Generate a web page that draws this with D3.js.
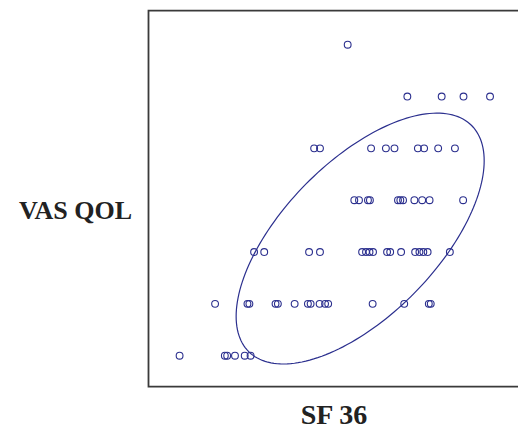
<!DOCTYPE html>
<html>
<head>
<meta charset="utf-8">
<script src="https://cdn.jsdelivr.net/npm/d3@7"></script>
<style>
  body { margin: 0; background: #fff; }
  svg { display: block; }
</style>
</head>
<body>
<svg id="chart"></svg>
<script>
// VAS QOL levels (1 = bottom row, 7 = top row)
const qolLevels = [1, 2, 3, 4, 5, 6, 7];

// SF 36 scores for each VAS QOL level
const sfAtQol1 = [8.1, 19.7, 20.3, 22.3, 24.8, 26.3];
const sfAtQol2 = [17.2, 25.5, 26.0, 32.7, 33.3, 37.6, 41.0, 41.7, 44.0, 45.4, 46.2, 57.6, 65.7, 72.0, 72.5];
const sfAtQol3 = [27.2, 29.8, 41.3, 44.1, 54.9, 55.9, 56.8, 57.7, 61.3, 62.1, 64.9, 68.5, 69.6, 70.6, 71.7, 77.4];
const sfAtQol4 = [52.9, 54.1, 56.4, 56.9, 64.1, 64.7, 65.4, 68.3, 70.3, 72.2, 80.8];
const sfAtQol5 = [42.6, 44.1, 57.2, 61.0, 63.2, 69.2, 70.8, 74.4, 78.7];
const sfAtQol6 = [66.5, 75.3, 80.9, 87.7];
const sfAtQol7 = [51.2];

// confidence ellipse (data units)
const ellipseCenter = [54.4, 3.26];
const ellipseRadii = [31.8, 2.42];
const ellipseCorr = 0.62;

const xLabel = "SF 36";
const yLabel = "VAS QOL";

const width = 518, height = 429;
const svg = d3.select("#chart").attr("width", width).attr("height", height);

const plot = { left: 148.5, top: 10.7, bottom: 386.7, right: 540 };

const x = d3.scaleLinear().domain([0, 100]).range([148, 538]);
const y = d3.scaleLinear().domain([0.402, 7.656]).range([plot.bottom, plot.top]);

const rows = [sfAtQol1, sfAtQol2, sfAtQol3, sfAtQol4, sfAtQol5, sfAtQol6, sfAtQol7];
const points = [];
rows.forEach((row, i) => {
  row.forEach(v => points.push({ sf: v, qol: qolLevels[i] }));
});

// frame (left, top, bottom; right edge runs off the picture)
svg.append("path")
  .attr("d", "M" + plot.right + "," + plot.top + "H" + plot.left + "V" + plot.bottom + "H" + plot.right)
  .attr("fill", "none")
  .attr("stroke", "#3a3a3a")
  .attr("stroke-width", 1.8);

const navy = "#2b2f8e";

svg.append("g")
  .selectAll("circle")
  .data(points)
  .join("circle")
  .attr("cx", d => x(d.sf))
  .attr("cy", d => y(d.qol))
  .attr("r", 3.4)
  .attr("fill", "none")
  .attr("stroke", navy)
  .attr("stroke-width", 1.1);

const phi = Math.acos(ellipseCorr);
const ts = d3.range(0, 2 * Math.PI + 0.01, Math.PI / 90);
const ellipseLine = d3.line()
  .x(t => x(ellipseCenter[0] + ellipseRadii[0] * Math.cos(t)))
  .y(t => y(ellipseCenter[1] + ellipseRadii[1] * Math.cos(t - phi)))
  .curve(d3.curveLinearClosed);

svg.append("path")
  .datum(ts)
  .attr("d", ellipseLine)
  .attr("fill", "none")
  .attr("stroke", navy)
  .attr("stroke-width", 1.2);

svg.append("text")
  .attr("x", 75.6)
  .attr("y", 218.7)
  .attr("text-anchor", "middle")
  .attr("font-family", "'Liberation Serif', 'Times New Roman', serif")
  .attr("font-weight", "bold")
  .attr("font-size", 26)
  .attr("fill", "#222")
  .text(yLabel);

svg.append("text")
  .attr("x", 334)
  .attr("y", 424)
  .attr("text-anchor", "middle")
  .attr("font-family", "'Liberation Serif', 'Times New Roman', serif")
  .attr("font-weight", "bold")
  .attr("font-size", 28)
  .attr("fill", "#222")
  .text(xLabel);
</script>
</body>
</html>
